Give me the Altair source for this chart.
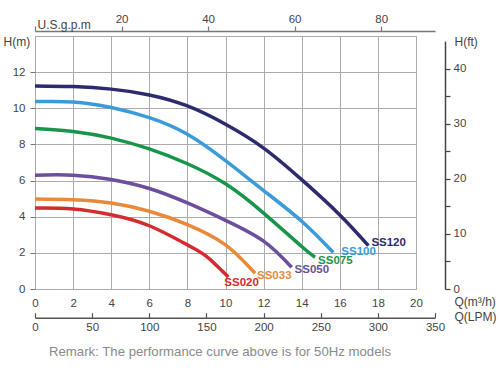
import altair as alt
import pandas as pd

# ---------------- data ----------------
series = ["SS120", "SS100", "SS075", "SS050", "SS033", "SS020"]
colors = ["#2d2b6f", "#3b9bd8", "#17964b", "#6b4f9d", "#e98a3b", "#d52a2f"]

q_ss120 = [0, 2, 4, 6, 8, 10, 12, 14, 16, 17.5]
h_ss120 = [11.24, 11.2, 11.06, 10.74, 10.13, 9.12, 7.8, 6.05, 4.1, 2.4]
q_ss100 = [0, 2, 4, 6, 8, 10, 12, 14, 15.66]
h_ss100 = [10.37, 10.35, 10.04, 9.48, 8.56, 7.1, 5.45, 3.75, 2.02]
q_ss075 = [0, 2, 4, 6, 8, 10, 12, 14, 14.7]
h_ss075 = [8.88, 8.72, 8.35, 7.75, 6.93, 5.82, 4.2, 2.35, 1.76]
q_ss050 = [0, 2, 4, 6, 8, 10, 12, 13.47]
h_ss050 = [6.3, 6.3, 6.06, 5.56, 4.76, 3.8, 2.65, 1.2]
q_ss033 = [0, 2, 4, 6, 8, 10, 11.55]
h_ss033 = [4.98, 4.94, 4.76, 4.3, 3.56, 2.44, 0.87]
q_ss020 = [0, 2, 4, 6, 8, 9, 10.15]
h_ss020 = [4.48, 4.43, 4.11, 3.5, 2.44, 1.8, 0.66]

q_ticks = [0, 2, 4, 6, 8, 10, 12, 14, 16, 18, 20]
h_ticks = [0, 2, 4, 6, 8, 10, 12, 14]
gpm_ticks = [0, 20, 40, 60, 80]
lpm_ticks = [0, 50, 100, 150, 200, 250, 300, 350]
ft_ticks = [0, 5, 10, 15, 20, 25, 30, 35, 40]
remark = "Remark: The performance curve above is for 50Hz models"

# ---------------- build tables ----------------
qs = [q_ss120, q_ss100, q_ss075, q_ss050, q_ss033, q_ss020]
hs = [h_ss120, h_ss100, h_ss075, h_ss050, h_ss033, h_ss020]
rows = []
for name, q, h in zip(series, qs, hs):
    for i, (a, b) in enumerate(zip(q, h)):
        rows.append({"model": name, "q": a, "h": b, "i": i})
df = pd.DataFrame(rows)
ends = pd.DataFrame([{"model": n, "q": q[-1], "h": h[-1]} for n, q, h in zip(series, qs, hs)])

FONT = "Liberation Sans"
TXT = "#444444"
GRID = "#ababab"

W, H = 381, 253
X_EXT = W * 21 / 20  # axes extend to 21 m3/h

x_axis = alt.Axis(
    orient="bottom", values=q_ticks, grid=True, gridColor=GRID, gridWidth=1,
    ticks=False, tickSize=0, labelPadding=8, labelFlush=False, labelOverlap=False,
    domainColor=GRID, domainWidth=1, labelFontSize=11.5, labelColor=TXT,
    title="Q(m³/h)", titleX=419, titleY=12, titleAlign="left",
    titleBaseline="middle", titleFontWeight="normal", titleFontSize=12,
    titleColor=TXT,
)
y_axis = alt.Axis(
    orient="left", values=h_ticks, grid=True, gridColor=GRID, gridWidth=1,
    labelExpr="datum.value == 14 ? '' : datum.label",
    tickSize=5, tickColor="#777777",
    tickOpacity={"condition": {"test": "datum.value == 14", "value": 0}, "value": 1},
    domain=False, labelPadding=5, labelFlush=False, labelOverlap=False,
    labelFontSize=11.5, labelColor=TXT, title="H(m)", titleAngle=0, titleX=-32,
    titleY=5, titleAlign="left", titleBaseline="middle", titleFontWeight="normal",
    titleFontSize=12, titleColor=TXT,
)
x_scale = alt.Scale(domain=[0, 20], nice=False)
y_scale = alt.Scale(domain=[0, 14], nice=False)

color = alt.Color("model:N", scale=alt.Scale(domain=series, range=colors), legend=None)

lines = alt.Chart(df).mark_line(strokeWidth=3.5, interpolate="natural", strokeCap="butt").encode(
    x=alt.X("q:Q", scale=x_scale, axis=x_axis),
    y=alt.Y("h:Q", scale=y_scale, axis=y_axis),
    color=color, order="i:Q", detail="model:N",
)

offsets = {
    "SS120": (3, -3), "SS100": (8, 0), "SS075": (3, 4),
    "SS050": (3, 3), "SS033": (2, 2.5), "SS020": (-4, 5.5),
}
label_layers = []
for n in series:
    dx, dy = offsets[n]
    label_layers.append(
        alt.Chart(ends).transform_filter(alt.datum.model == n).mark_text(
            align="left", baseline="middle", dx=dx, dy=dy, fontSize=11.5,
            fontWeight="bold", font=FONT
        ).encode(
            x=alt.X("q:Q", scale=x_scale, axis=x_axis),
            y=alt.Y("h:Q", scale=y_scale, axis=y_axis),
            text="model:N", color=color,
        )
    )

main = alt.layer(lines, *label_layers)

# top axis: U.S. gpm
gpm = alt.Chart(pd.DataFrame({"gpm": gpm_ticks})).mark_point(opacity=0).encode(
    x=alt.X(
        "gpm:Q",
        scale=alt.Scale(domain=[0, 21 / 0.227125], range=[0, X_EXT], nice=False, zero=False),
        axis=alt.Axis(
            orient="top", offset=5, values=gpm_ticks,
            labelExpr="datum.value == 0 ? '' : datum.label",
            tickSize=5, tickColor="#777777", domainColor="#777777", domainWidth=1.5,
            tickWidth=1.2, labelPadding=2, labelFlush=False, labelFontSize=11.5,
            labelColor=TXT, grid=False,
            title="U.S.g.p.m", titleX=2, titleY=-3, titleAlign="left",
            titleBaseline="alphabetic", titleFontWeight="normal", titleFontSize=12,
            titleColor=TXT,
        ),
    )
)

# bottom axis: LPM (drawn as a top-oriented axis pushed down so ticks point up)
lpm = alt.Chart(pd.DataFrame({"lpm": lpm_ticks})).mark_point(opacity=0).encode(
    x=alt.X(
        "lpm:Q",
        scale=alt.Scale(domain=[0, 350], range=[0, X_EXT], nice=False),
        axis=alt.Axis(
            orient="top", offset=-(H + 28.7), values=lpm_ticks,
            tickSize=5, tickColor="#555555", domainColor="#555555", domainWidth=1.5,
            tickWidth=1.2, labelPadding=-14.5, labelBaseline="middle",
            labelFlush=False, labelFontSize=11.5, labelColor=TXT, grid=False,
            title="Q(LPM)", titleX=419, titleY=-1.5, titleAlign="left",
            titleBaseline="middle", titleFontWeight="normal", titleFontSize=12,
            titleColor=TXT,
        ),
    )
)

# right axis: H(ft)
ft = alt.Chart(pd.DataFrame({"ft": ft_ticks})).mark_point(opacity=0).encode(
    y=alt.Y(
        "ft:Q",
        scale=alt.Scale(domain=[0, 45], range=[H, H - 45 * 0.3048 * H / 14], nice=False),
        axis=alt.Axis(
            orient="right", offset=29, values=ft_ticks,
            labelExpr="datum.value % 10 == 0 ? datum.label : ''",
            tickSize=5, tickColor="#444444", domainColor="#444444", domainWidth=1.5,
            tickWidth=1.2, labelPadding=3, labelFlush=False, labelFontSize=11.5,
            labelColor=TXT, grid=False, labelBaseline="middle",
            title="H(ft)", titleAngle=0, titleX=9, titleY=5, titleAlign="left",
            titleBaseline="middle", titleFontWeight="normal", titleFontSize=12,
            titleColor=TXT,
        ),
    )
)

note = alt.Chart(pd.DataFrame({"t": [remark]})).mark_text(
    align="left", baseline="middle", fontSize=13.2, color="#8a8a8a", font=FONT
).encode(x=alt.value(14), y=alt.value(316), text="t:N")

chart = (
    alt.layer(main, gpm, lpm, ft, note)
    .resolve_scale(x="independent", y="independent", color="shared")
    .properties(
        width=W, height=H, autosize="none",
        padding={"left": 35, "top": 36, "right": 500 - 35 - W, "bottom": 375 - 36 - H},
        background="white",
    )
    .configure_view(strokeWidth=0)
    .configure(font=FONT)
)

chart.save("out.html", embed_options={"renderer": "svg", "actions": False})
